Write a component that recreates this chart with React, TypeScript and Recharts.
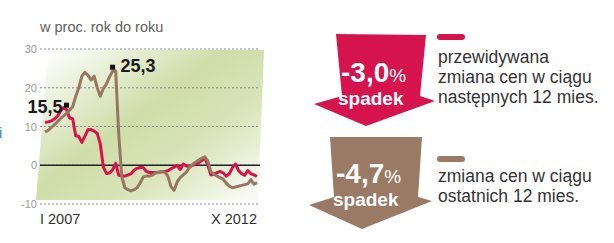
import React from 'react'
import { LineChart, Line, XAxis, YAxis, CartesianGrid, ReferenceLine, ReferenceDot } from 'recharts'

// months from I 2007 to X 2012
const roman = ['I', 'II', 'III', 'IV', 'V', 'VI', 'VII', 'VIII', 'IX', 'X', 'XI', 'XII']
const months: string[] = []
for (let y = 2007; y <= 2012; y++) {
  for (let m = 0; m < 12; m++) {
    if (y === 2012 && m > 9) break
    months.push(`${roman[m]} ${y}`)
  }
}

// przewidywana zmiana cen w ciągu następnych 12 mies.
const expected = [
  11.0, 11.2, 11.4, 11.9, 12.6, 13.9, 14.9, 14.4, 12.2, 12.0,
  7.6, 7.4, 5.9, 7.5, 9.2, 9.2, 8.8, 8.2, 5.5, -0.5,
  -2.1, -2.0, -1.2, 0.5, -2.6, -2.8, -2.8, -2.5, -2.2, -1.3,
  -0.8, -0.6, -0.6, -1.6, -1.9, -1.9, -1.9, -1.8, -1.7, -1.6,
  -1.4, -0.9, -0.5, 0.0, -1.1, 0.3, -0.2, -0.4, 0.0, 0.3,
  0.6, 1.2, 1.9, 0.0, -2.5, -2.3, -1.9, -1.6, -2.0, -2.8,
  -2.2, -0.6, 0.3, -1.4, -2.2, -2.6, -1.4, -2.2, -2.5, -2.9,
]

// zmiana cen w ciągu ostatnich 12 mies.
const actual = [
  8.6, 9.0, 9.7, 10.4, 11.2, 12.0, 12.7, 13.4, 14.2, 15.1,
  17.8, 20.0, 23.0, 24.0, 23.2, 22.0, 23.0, 20.0, 17.8, 19.8,
  21.0, 22.8, 24.3, 24.3, 8.0, -3.0, -5.8, -6.3, -6.6, -6.3,
  -5.8, -4.5, -3.0, -2.8, -2.8, -2.5, -2.0, -1.8, -1.6, -1.8,
  -2.8, -5.5, -6.5, -4.3, -3.2, -2.5, -1.8, -0.6, 0.2, 0.8,
  1.3, 1.8, 2.2, 1.0, -1.7, -2.3, -2.8, -3.2, -3.6, -4.6,
  -5.4, -5.8, -5.6, -5.4, -5.2, -5.0, -4.8, -3.7, -4.9, -4.5,
]

const yTicks = [-10, 0, 10, 20, 30]
const xTicks = [months[0], months[months.length - 1]]

const peaks = [
  { m: months[7], value: 15.5, label: '15,5', side: 'left' },
  { m: months[22], value: 25.3, label: '25,3', side: 'right' },
]

const summary = [
  { value: '-3,0', word: 'spadek', color: '#d5134c', lines: ['przewidywana', 'zmiana cen w ciągu', 'następnych 12 mies.'] },
  { value: '-4,7', word: 'spadek', color: '#9a7a65', lines: ['zmiana cen w ciągu', 'ostatnich 12 mies.'] },
]

const RED = '#d8134c'
const BROWN = '#977762'
const FONT = '"Liberation Sans", Arial, sans-serif'

const data = months.map((m, i) => ({ m, expected: expected[i], actual: actual[i] }))

const YTick = (props: any) => {
  const { y, payload } = props
  return (
    <text x={37} y={y} dy={4} textAnchor="end" fill="#9a9a9a" fontSize={11} fontFamily={FONT}>
      {payload.value}
    </text>
  )
}

const XTick = (props: any) => {
  const { x, y, payload } = props
  const first = payload.value === months[0]
  return (
    <text x={first ? x - 5 : x} y={y} dy={12} textAnchor={first ? 'start' : 'end'} fill="#333" fontSize={14.5} fontFamily={FONT}>
      {first ? 'I 2007' : 'X 2012'}
    </text>
  )
}

const PeakMark = (props: any) => {
  const { cx, cy, label, side } = props
  return (
    <g>
      <rect x={cx - 2.5} y={cy - 2.5} width={5} height={5} fill="#111" />
      <text
        x={side === 'left' ? cx - 4 : cx + 8}
        y={cy + (side === 'left' ? 8 : 5)}
        textAnchor={side === 'left' ? 'end' : 'start'}
        fontSize={18}
        fontWeight="bold"
        fill="#1a1a1a"
        fontFamily={FONT}
      >
        {label}
      </text>
    </g>
  )
}

// arrow outlines (decoration)
const arrowShapes = [
  '336,34 426,35 420,96 435,101 366,126 314,104 342,96',
  '330,137 422,137 418,197 432,201 362,229 309,205 334,197',
]
const arrowText = [
  { x: 341, y: 82, wy: 105 },
  { x: 336, y: 183, wy: 206 },
]
const legendPos = [
  { bar: 34, text: 63 },
  { bar: 156, text: 182 },
]

export default function App() {
  return (
    <div style={{ position: 'absolute', left: 0, top: 0, width: 614, height: 243, background: '#fff', fontFamily: FONT }}>
      <svg width={614} height={243} style={{ position: 'absolute', left: 0, top: 0 }}>
        <defs>
          <linearGradient id="bg" gradientUnits="userSpaceOnUse" x1={60} y1={40} x2={200} y2={230}>
            <stop offset="0" stopColor="#ffffff" />
            <stop offset="0.45" stopColor="#cfdda9" />
            <stop offset="0.7" stopColor="#d8e4b9" />
            <stop offset="1" stopColor="#f8faf1" />
          </linearGradient>
        </defs>
        <polygon points="36,200 48,50 264,50 258,200" fill="url(#bg)" />
        <text x={40} y={32} fontSize={14.5} fill="#5e5e5e">w proc. rok do roku</text>
        <text x={-1} y={138} fontSize={14} fill="#2a7ab8">i</text>

        {summary.map((s, k) => (
          <g key={k}>
            <polygon points={arrowShapes[k]} fill={s.color} />
            <text x={arrowText[k].x} y={arrowText[k].y} fill="#fff" fontWeight="bold" fontSize={28}>
              {s.value}
              <tspan fontWeight="normal" fontSize={19}>%</tspan>
            </text>
            <text x={arrowText[k].x - 3} y={arrowText[k].wy} fill="#fff" fontWeight="bold" fontSize={19}>
              {s.word}
            </text>
            <rect x={437} y={legendPos[k].bar} width={28} height={6} rx={3} fill={s.color} />
            {s.lines.map((t, j) => (
              <text key={j} x={438} y={legendPos[k].text + j * 20} fontSize={17.5} fill="#333">
                {t}
              </text>
            ))}
          </g>
        ))}
      </svg>

      <LineChart
        width={614}
        height={243}
        data={data}
        margin={{ top: 49, right: 354, bottom: 9, left: 0 }}
        style={{ position: 'absolute', left: 0, top: 0 }}
      >
        <CartesianGrid vertical={false} stroke="#8a8a8a" strokeDasharray="2 2" />
        <XAxis
          dataKey="m"
          ticks={xTicks}
          interval={0}
          axisLine={false}
          tickLine={false}
          padding={{ left: 5, right: 3 }}
          height={30}
          tick={<XTick />}
        />
        <YAxis
          domain={[-10, 30]}
          ticks={yTicks}
          width={40}
          axisLine={false}
          tickLine={false}
          tick={<YTick />}
        />
        <ReferenceLine y={0} stroke="#222" strokeWidth={1.5} />
        <Line type="linear" dataKey="expected" stroke={RED} strokeWidth={3} dot={false} isAnimationActive={false} strokeLinejoin="round" />
        <Line type="linear" dataKey="actual" stroke={BROWN} strokeWidth={3} dot={false} isAnimationActive={false} strokeLinejoin="round" />
        {peaks.map((p) => (
          <ReferenceDot
            key={p.label}
            x={p.m}
            y={p.value}
            shape={(props: any) => <PeakMark {...props} label={p.label} side={p.side} />}
          />
        ))}
      </LineChart>
    </div>
  )
}
